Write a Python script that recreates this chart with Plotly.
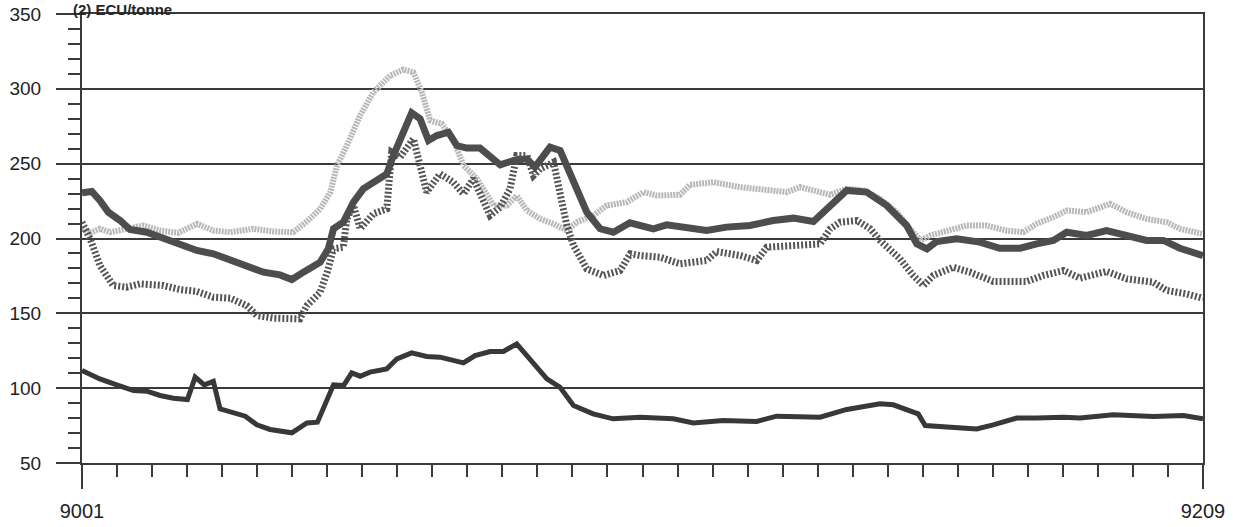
import plotly.graph_objects as go

# x positions are in months from 9001 (0) to 9209 (32)
tick_vals = [0, 32]
tick_text = ["9001", "9209"]

a_x = [0, 0.51, 0.99, 1.47, 1.85, 2.23, 2.61, 3.01, 3.23, 3.49, 3.75, 3.94, 4.66, 4.99, 5.37, 5.99,
       6.42, 6.72, 7.18, 7.47, 7.70, 7.94, 8.22, 8.70, 8.99, 9.41, 9.84, 10.22, 10.89, 11.22, 11.65,
       12.03, 12.41, 12.79, 13.27, 13.64, 14.03, 14.59, 15.16, 15.93, 16.4, 16.88, 17.45, 18.3,
       19.26, 19.83, 21.07, 21.83, 22.78, 23.16, 23.73, 23.87, 24.07, 24.68, 25.54, 26.01, 26.68,
       27.25, 28.02, 28.49, 29.44, 30.58, 31.44, 32.0]
a_y = [111.8, 106.2, 102.2, 98.4, 98.0, 95.1, 93.3, 92.4, 107.4, 102.2, 104.5, 86.2, 81.3, 75.5, 72.4,
       70.2, 76.8, 77.3, 102.2, 101.8, 110.2, 108.0, 110.7, 112.9, 119.6, 123.6, 121.2, 120.7, 116.9,
       121.8, 124.5, 124.5, 129.6, 119.6, 106.2, 100.7, 88.4, 82.8, 79.5, 80.6, 80.0, 79.5, 76.8, 78.4,
       77.8, 81.3, 80.6, 85.8, 89.5, 88.9, 84.0, 82.8, 75.0, 74.4, 72.8, 75.5, 80.0, 80.0, 80.6, 80.0,
       82.2, 81.1, 81.7, 79.5]

b_x = [0, 0.28, 0.51, 0.75, 1.09, 1.37, 1.85, 2.32, 2.80, 3.28, 3.75, 4.23, 4.70, 5.18, 5.65, 5.99,
       6.32, 6.80, 7.03, 7.18, 7.46, 7.75, 8.03, 8.32, 8.70, 8.89, 9.13, 9.41, 9.65, 9.89, 10.13,
       10.46, 10.70, 10.98, 11.36, 11.65, 11.94, 12.32, 12.70, 12.93, 13.36, 13.65, 13.93, 14.41,
       14.79, 15.17, 15.64, 15.93, 16.31, 16.69, 17.17, 17.83, 18.40, 19.07, 19.73, 20.31, 20.88,
       21.17, 21.64, 21.83, 22.40, 22.97, 23.54, 23.83, 24.12, 24.40, 24.97, 25.63, 26.20, 26.78,
       27.25, 27.73, 28.11, 28.68, 29.25, 29.82, 30.39, 30.87, 31.34, 32.0]
b_y = [230.5, 231.4, 225.4, 217.6, 212.0, 206.0, 204.2, 199.8, 195.3, 192.0, 189.8, 185.3, 181.5,
       177.5, 175.7, 172.6, 177.5, 184.2, 193.1, 206.5, 210.9, 224.3, 233.2, 237.6, 243.2, 255.5,
       268.8, 284.0, 280.0, 265.5, 268.8, 271.0, 262.1, 260.4, 260.4, 255.5, 249.2, 252.1, 253.2,
       247.7, 261.0, 258.8, 244.3, 217.6, 206.5, 204.2, 210.5, 209.1, 206.5, 209.1, 207.6, 205.3,
       207.6, 208.7, 212.0, 213.6, 211.4, 217.6, 227.6, 232.1, 231.0, 222.1, 208.7, 196.4, 193.1,
       198.0, 199.8, 197.6, 193.5, 193.5, 196.4, 198.7, 204.2, 202.0, 205.3, 202.0, 198.7, 198.7,
       193.5, 188.6]

c_x = [0, 0.23, 0.51, 0.80, 1.37, 1.75, 2.23, 2.75, 3.28, 3.75, 4.23, 4.89, 5.46, 6.03, 6.42, 6.80,
       7.09, 7.28, 7.56, 7.94, 8.32, 8.80, 9.17, 9.46, 9.70, 9.94, 10.27, 10.61, 10.89, 11.27, 11.75,
       12.13, 12.41, 12.70, 13.08, 13.46, 13.84, 14.12, 14.60, 14.98, 15.55, 16.03, 16.41, 17.07,
       17.36, 18.03, 18.79, 19.55, 20.12, 20.50, 20.98, 21.36, 21.83, 22.31, 22.78, 23.26, 23.64,
       23.93, 24.21, 24.68, 25.25, 25.82, 26.39, 26.87, 27.25, 27.73, 28.11, 28.68, 29.35, 29.82,
       30.39, 30.96, 31.34, 32.0]
c_y = [206.5, 203.8, 206.5, 204.2, 206.9, 208.7, 205.3, 203.8, 209.8, 205.3, 204.2, 206.5, 204.7,
       204.2, 211.4, 219.8, 231.0, 248.8, 262.1, 282.2, 297.8, 308.9, 312.9, 311.1, 297.8, 278.8,
       276.6, 265.5, 248.8, 239.9, 222.1, 222.1, 228.7, 218.7, 213.1, 209.8, 205.3, 210.9, 215.4,
       222.1, 224.3, 231.0, 228.7, 229.2, 235.9, 237.6, 234.3, 232.7, 231.0, 234.3, 231.0, 229.2,
       233.2, 232.1, 226.5, 217.6, 206.5, 198.7, 202.0, 205.3, 208.7, 208.7, 205.3, 204.2, 209.8,
       214.3, 218.7, 217.6, 223.2, 217.6, 213.1, 210.9, 206.5, 203.1]

d_x = [0, 0.23, 0.51, 0.89, 1.27, 1.65, 2.32, 2.80, 3.28, 3.75, 4.23, 4.70, 4.99, 5.46, 6.22, 6.42,
       6.80, 7.0, 7.18, 7.46, 7.56, 7.75, 7.94, 8.32, 8.70, 8.84, 9.08, 9.46, 9.84, 10.22, 10.60,
       10.89, 11.17, 11.65, 11.94, 12.22, 12.41, 12.70, 12.89, 13.08, 13.46, 13.65, 13.84, 14.03,
       14.41, 14.89, 15.36, 15.65, 15.93, 16.50, 17.07, 17.83, 18.12, 18.79, 19.26, 19.55, 20.22,
       21.07, 21.36, 21.64, 22.12, 22.50, 22.78, 23.35, 23.73, 24.02, 24.30, 24.87, 25.35, 26.01,
       26.97, 27.44, 28.02, 28.49, 29.25, 29.82, 30.58, 30.96, 31.53, 32.0]
d_y = [210.9, 199.8, 182.0, 168.6, 167.5, 169.7, 168.6, 165.9, 164.6, 160.8, 160.1, 155.2, 148.6,
       146.8, 146.3, 155.2, 164.1, 177.5, 193.1, 194.2, 213.1, 222.1, 206.5, 216.5, 219.8, 257.7,
       254.3, 266.6, 231.0, 243.2, 237.6, 229.8, 239.9, 215.4, 221.0, 233.2, 255.5, 255.5, 242.1,
       246.5, 251.0, 231.0, 208.7, 195.3, 179.7, 175.3, 178.6, 189.8, 188.6, 187.5, 183.1, 185.3,
       191.3, 188.6, 185.3, 194.2, 195.3, 196.4, 206.5, 210.9, 212.0, 206.5, 198.7, 186.4, 175.3,
       168.6, 175.3, 180.8, 177.5, 171.3, 171.3, 175.3, 178.6, 173.5, 178.0, 173.0, 170.8, 165.3,
       163.0, 160.1]

ink = "#3a3a3a"
fig = go.Figure()
fig.add_trace(go.Scatter(x=c_x, y=c_y, mode="lines",
                         line=dict(color="#b8b8b8", width=6, dash="2px,1px")))
fig.add_trace(go.Scatter(x=d_x, y=d_y, mode="lines",
                         line=dict(color="#555555", width=7, dash="2px,2px")))
fig.add_trace(go.Scatter(x=b_x, y=b_y, mode="lines",
                         line=dict(color="#4d4d4d", width=7)))
fig.add_trace(go.Scatter(x=a_x, y=a_y, mode="lines",
                         line=dict(color="#383838", width=5)))

fig.update_layout(
    width=1233, height=527,
    margin=dict(l=82, r=30, t=14, b=64, autoexpand=False),
    paper_bgcolor="white", plot_bgcolor="white",
    showlegend=False,
    font=dict(family="Liberation Sans", size=19, color="#222222"),
    xaxis=dict(range=[0, 32], tickmode="array", tickvals=tick_vals, ticktext=tick_text,
               ticks="outside", ticklen=24, tickwidth=2, tickcolor=ink,
               showgrid=False, zeroline=False, showline=True, linecolor=ink, linewidth=2,
               mirror=True, ticklabelstandoff=5, tickfont=dict(size=20),
               minor=dict(tickmode="linear", tick0=0, dtick=1, ticks="outside", ticklen=12,
                          tickwidth=1.5, tickcolor=ink, showgrid=False)),
    yaxis=dict(range=[50, 350], tickmode="linear", tick0=50, dtick=50,
               ticks="outside", ticklen=24, tickwidth=1.5, tickcolor=ink,
               showgrid=True, gridcolor=ink, gridwidth=1.5, zeroline=False,
               showline=True, linecolor=ink, linewidth=2, mirror=True,
               ticklabelstandoff=11,
               minor=dict(tickmode="linear", tick0=50, dtick=10, ticks="outside", ticklen=12,
                          tickwidth=1.5, tickcolor=ink, showgrid=False)),
)

fig.add_annotation(text="<b>(2) ECU/tonne</b>", xref="paper", yref="paper",
                   x=-0.0089, y=1.0312, xanchor="left", yanchor="top", showarrow=False,
                   borderpad=0,
                   font=dict(family="Liberation Sans", size=15, color="#262626"))

fig.write_html("out.html", config={"displayModeBar": False},
               post_script="document.body.style.margin='0';")
